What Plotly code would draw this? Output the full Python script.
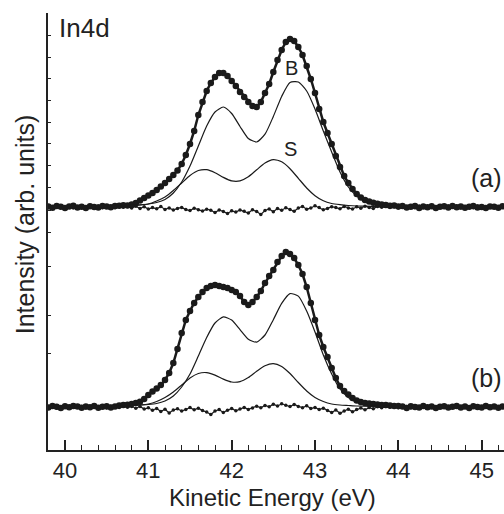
import numpy as np
import plotly.graph_objects as go

# Measurement grid (kinetic energy, eV) for the spectra and the fit components
energy = np.round(np.arange(39.80, 45.30 + 1e-9, 0.05), 2)
fit_energy = np.round(np.arange(40.6, 44.0 + 1e-9, 0.1), 1)

# In4d spectrum (a): measured intensity (background removed)
spec_a = [0.5, -0.8, 1.0, 0.2, -1.1, 0.6, 1.2, -0.4, 0.3, -0.9, 0.8, 0.1, -0.5, 1.1, 0.4, -0.2, 0.9,
          1.2, 1.8, 1.4, 2.6, 4.0, 6.5, 9.0, 11.5, 14, 17, 20.5, 24, 28, 32, 36.5, 43, 52, 63, 76, 92,
          105, 116, 124, 130, 134, 134, 131, 126, 121, 115, 110, 105, 101, 100, 105, 114, 123, 135,
          147, 157, 165, 168, 166, 160, 152, 141, 128, 114, 98, 85, 74, 63, 51, 40, 31, 24, 18, 13,
          9.5, 7, 5.5, 4.2, 3.2, 2.4, 2.0, 1.2, 1.6, 0.6,
          0.9, -0.6, 0.3, 1.1, -0.9, 0.4, -0.3, 0.8, -1.0, 0.2, 0.7, -0.5, 1.0, -0.2, 0.5, -0.8, 0.3,
          0.9, -0.4, 0.1, -1.1, 0.6, 0.2, -0.7, 0.8, -0.3]
resid_a = [0.6, -0.9, 0.3, 1.0, -0.4, 0.8, -1.1, 0.2, 0.9, -0.6, 0.4, -0.2, 1.1, -0.8, 0.5, 0.0, -0.7,
           0.9, -0.3, 0.6, -1.0,
           0.8, -1.5, 0.3, -2.0, -0.6, -1.8, 0.4, -2.4, -1.0, -3.0, -1.4, -0.5, -2.6, -3.5, -1.2,
           -2.8, -4.0, -2.2, -3.2, -5.5, -3.0, -4.5, -6.5, -3.8, -5.0, -3.0, -4.2, -6.0, -2.8, -4.6,
           -7.5, -3.5, -2.0, -4.8, -1.5, -3.2, -0.8, -2.5, -4.2, -1.0, 0.5, -2.2, -1.0, 1.2, -0.5,
           -2.8, -1.4, 0.3, -0.6, -1.8, 0.6, -0.9, -2.0, 0.2, -1.2, 0.8, -0.4, -1.5, 0.5, -0.3,
           0.7, -0.5, 0.2, -1.0, 0.9, -0.2, 0.4, -0.8, 1.0, -0.4, 0.3, 0.8, -0.9, 0.1, -0.6, 1.1,
           -0.3, 0.5, -1.0, 0.6, 0.2, -0.7, 0.9, -0.1, -0.5, 0.7, 0.3, -0.8, 0.4, -0.2]
bulk_a = [1.0, 1.2, 1.6, 2.2, 3.0, 4.5, 7.5, 14, 25, 41, 61, 81, 95, 100, 93.5, 80.5, 68.5, 65, 72.8,
          90.5, 110.6, 124.5, 125, 116, 98, 76, 55, 35, 20, 11, 5.5, 3, 1.8, 1.1, 0.6]
surf_a = [0.6, 1.0, 1.5, 2.0, 3.0, 6.0, 10, 16.5, 24, 31.5, 36.5, 37.3, 34.3, 29.6, 26.1, 26.1, 30.2,
          37.2, 44, 47.3, 45.2, 38.3, 28.7, 19, 11.3, 6.2, 3.5, 2.3, 1.5, 1.0, 0.8, 0.6, 0.4, 0.3, 0.2]

# In4d spectrum (b)
spec_b = [-0.6, 0.9, 0.2, -1.0, 0.7, -0.3, 1.1, 0.4, -0.8, 0.5, -0.2, 1.0, -0.7, 0.3, 0.8, -0.4, 0.6,
          1.5, 2.0, 2.3, 3.0, 4.0, 5.2, 8, 12, 15.5, 18.5, 22, 27, 34, 44, 58, 74, 87, 96, 104, 110,
          115, 119, 121, 122, 121, 120, 119, 117, 115, 111, 105, 102, 105, 110, 116, 124, 131, 137,
          145, 151, 155, 153, 149, 142, 133, 120, 104, 87, 72, 60, 50, 39, 29, 21, 16, 12.5, 9, 6.5,
          5, 4, 3.4, 3, 2.4, 2.0, 1.9, 1.4, 0.9, 1.0,
          0.4, -0.9, 0.7, 0.1, -0.5, 1.0, -0.3, 0.6, -1.1, 0.3, 0.8, -0.6, 0.2, 1.1, -0.4, 0.5, -0.9,
          0.7, 0.0, -0.6, 0.9, -0.2, 0.4, -0.8, 0.6, 0.1]
resid_b = [-0.4, 0.8, -1.0, 0.3, 0.6, -0.7, 1.1, -0.2, 0.5, -0.9, 0.2, 0.9, -0.5, 0.4, -1.1, 0.7, 0.0,
           -0.6, 1.0, -0.3, 0.5,
           -1.2, 0.6, -2.0, -0.8, -3.2, -1.5, -4.5, -2.2, -6.0, -3.0, -1.8, -4.0, -2.4, -0.6, -2.8,
           -1.2, -3.6, -5.0, -7.5, -4.0, -2.6, -5.5, -3.2, -1.5, -3.8, -2.0, -0.5, -2.4, -1.0, 0.8,
           -0.8, 1.5, 0.2, 2.8, 1.0, 3.2, 1.8, 0.4, 2.5, 0.6, -0.8, 1.2, -1.5, -0.4, -2.6, -1.2,
           -3.5, -5.5, -3.0, -6.2, -4.0, -2.2, -4.8, -2.6, -1.0, -2.8, -0.6, -1.8, 0.2, -0.8,
           0.6, -0.3, 0.9, -0.7, 0.2, 0.5, -1.0, 0.8, -0.2, 0.4, -0.8, 1.0, 0.1, -0.5, 0.7, -0.9,
           0.3, 0.6, -0.4, 1.1, -0.6, 0.2, 0.8, -1.0, 0.4, -0.1, 0.7, -0.5, 0.3, 0.9]
bulk_b = [1.0, 1.1, 1.5, 2.0, 2.5, 3.5, 6, 11, 20, 33, 51, 69.5, 84, 90.2, 86.9, 77.3, 67.7, 64.9, 72,
          87.3, 103.6, 113.4, 110.9, 96, 75, 52, 33, 18, 9.5, 4.8, 3, 2, 1.5, 1, 0.5]
surf_b = [0.5, 1.0, 1.5, 2.0, 3.0, 5.5, 9.5, 15, 22, 29, 33.5, 34.4, 31.9, 27.9, 25, 25.4, 29.5, 35.8,
          41.3, 43.4, 40.5, 33.5, 24.5, 16, 9.5, 5.5, 3, 2, 1.5, 1, 0.8, 0.6, 0.4, 0.3, 0.2]

# Vertical offset that stacks spectrum (a) above spectrum (b)
OFFSET_A = 200
y_ticks = [54, 92, 141, 175, 197, 220, 242, 264, 285, 307, 329, 350, 372]

INK = "#1a1a1a"
FONT = "Liberation Sans, Arial, sans-serif"

fig = go.Figure()

for spec, resid, bulk, surf, off in [(spec_a, resid_a, bulk_a, surf_a, OFFSET_A),
                                     (spec_b, resid_b, bulk_b, surf_b, 0)]:
    fig.add_trace(go.Scatter(x=energy, y=np.array(resid) + off, mode="lines+markers",
                             line=dict(color=INK, width=1.2),
                             marker=dict(color=INK, size=3.5)))
    fig.add_trace(go.Scatter(x=energy, y=np.array(spec) + off, mode="lines+markers",
                             line=dict(color=INK, width=2.5),
                             marker=dict(color=INK, size=6.5)))
    for comp in (bulk, surf):
        fig.add_trace(go.Scatter(x=fit_energy, y=np.array(comp) + off, mode="lines",
                                 line=dict(color=INK, width=1.2, shape="spline", smoothing=0.6)))

x_range = [39.796, 45.268]
fig.update_layout(
    width=504, height=514,
    margin=dict(l=48, r=0, t=13, b=64),
    paper_bgcolor="white", plot_bgcolor="white",
    showlegend=False,
    font=dict(family=FONT, color="#222"),
    xaxis=dict(range=x_range, tickvals=[40, 41, 42, 43, 44, 45],
               ticks="inside", ticklen=10, tickwidth=1.5, tickcolor="#222",
               minor=dict(dtick=0.2, tick0=40, ticks="inside", ticklen=5,
                          tickwidth=1.2, tickcolor="#222"),
               showline=True, linewidth=2, linecolor="#222", mirror=False,
               showgrid=False, zeroline=False,
               tickfont=dict(size=22, family=FONT, color="#222")),
    xaxis2=dict(range=x_range, overlaying="x", side="top",
                tickvals=list(np.round(np.arange(39.8, 45.3, 0.2), 1)),
                ticks="inside", ticklen=3, tickwidth=1.2, tickcolor="#222",
                showticklabels=False, showline=True, linewidth=2, linecolor="#222",
                showgrid=False, zeroline=False),
    yaxis=dict(range=[-43, 394], tickvals=y_ticks, ticks="inside", ticklen=3,
               tickwidth=1.2, tickcolor="#222", showticklabels=False,
               showline=True, linewidth=2, linecolor="#222", mirror=False,
               showgrid=False, zeroline=False),
)

annotations = [
    dict(text="In4d", xref="paper", yref="paper", x=0.02, y=0.965,
         xanchor="left", yanchor="middle", font=dict(size=26)),
    dict(text="B", x=42.72, y=339, xanchor="center", yanchor="middle", font=dict(size=20)),
    dict(text="S", x=42.70, y=258, xanchor="center", yanchor="middle", font=dict(size=20)),
    dict(text="(a)", x=45.06, y=229, xanchor="center", yanchor="middle", font=dict(size=25)),
    dict(text="(b)", x=45.06, y=29, xanchor="center", yanchor="middle", font=dict(size=25)),
    dict(text="Kinetic Energy (eV)", xref="paper", yref="paper", x=0.492, y=-0.108,
         xanchor="center", yanchor="middle", font=dict(size=24)),
    dict(text="Intensity (arb. units)", xref="paper", yref="paper", x=-0.05, y=0.517,
         xanchor="center", yanchor="middle", textangle=-90, font=dict(size=25)),
]
for a in annotations:
    a.setdefault("showarrow", False)
    fig.add_annotation(**a)

fig.write_html("out.html")
